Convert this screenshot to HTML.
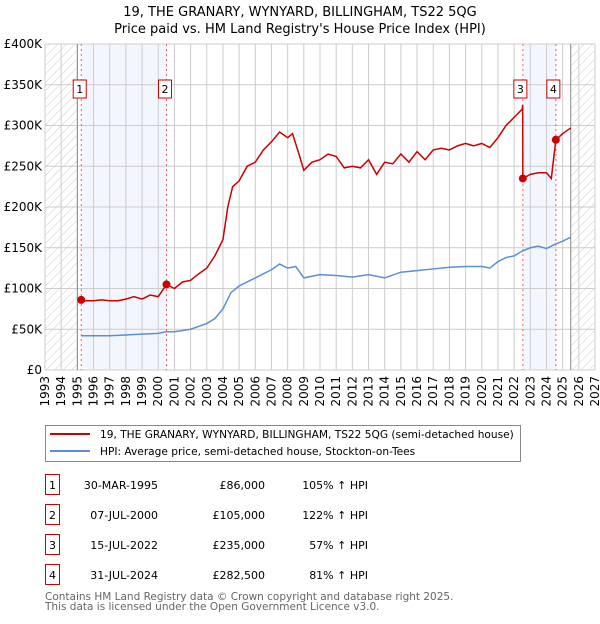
<!DOCTYPE html>
<html><head><meta charset="utf-8"><style>
body{margin:0;background:#fff;font-family:"DejaVu Sans","Liberation Sans",sans-serif;}
svg text{font-family:"DejaVu Sans","Liberation Sans",sans-serif;}
</style></head><body>
<svg id="c" width="600" height="620" xmlns="http://www.w3.org/2000/svg">
<defs><pattern id="hatch" width="6" height="6" patternUnits="userSpaceOnUse" patternTransform="rotate(45)"><line x1="0" y1="0" x2="0" y2="6" stroke="#ccc" stroke-width="1"/></pattern></defs>
<text x="300" y="16" text-anchor="middle" font-size="13">19, THE GRANARY, WYNYARD, BILLINGHAM, TS22 5QG</text>
<text x="300" y="33" text-anchor="middle" font-size="13">Price paid vs. HM Land Registry's House Price Index (HPI)</text>
<g id="plot"></g>
<g>
<rect x="45.5" y="425.5" width="475" height="36" fill="#fff" stroke="#888"/>
<line x1="50" y1="434" x2="90" y2="434" stroke="#cc0000" stroke-width="2"/>
<text x="100" y="438" font-size="10.6">19, THE GRANARY, WYNYARD, BILLINGHAM, TS22 5QG (semi-detached house)</text>
<line x1="50" y1="451" x2="90" y2="451" stroke="#5b8fd4" stroke-width="2"/>
<text x="100" y="455" font-size="10.6">HPI: Average price, semi-detached house, Stockton-on-Tees</text>
</g>
<g id="table" font-size="11"></g>
<text x="45" y="600" font-size="10.5" fill="#666">Contains HM Land Registry data © Crown copyright and database right 2025.</text>
<text x="45" y="610" font-size="10.5" fill="#666">This data is licensed under the Open Government Licence v3.0.</text>
</svg>
<script>
const years=[];for(let y=1993;y<=2027;y++)years.push(y);
const yTicks=[0,50000,100000,150000,200000,250000,300000,350000,400000];
const yTickLabels=["£0","£50K","£100K","£150K","£200K","£250K","£300K","£350K","£400K"];
const redT=[1995.24,1995.5,1996,1996.5,1997,1997.5,1998,1998.5,1999,1999.5,2000,2000.51,2001,2001.5,2002,2002.5,2003,2003.5,2004,2004.3,2004.6,2005,2005.5,2006,2006.5,2007,2007.5,2008,2008.3,2008.7,2009,2009.5,2010,2010.5,2011,2011.5,2012,2012.5,2013,2013.5,2014,2014.5,2015,2015.5,2016,2016.5,2017,2017.5,2018,2018.5,2019,2019.5,2020,2020.5,2021,2021.5,2022,2022.5,2022.53,2022.54,2023,2023.5,2024,2024.3,2024.58,2025,2025.5];
const redV=[86000,85000,85000,86000,85000,85000,87000,90000,87000,92000,90000,105000,100000,108000,110000,118000,125000,140000,160000,200000,225000,232000,250000,255000,270000,280000,292000,285000,290000,265000,245000,255000,258000,265000,262000,248000,250000,248000,258000,240000,255000,253000,265000,255000,268000,258000,270000,272000,270000,275000,278000,275000,278000,273000,285000,300000,310000,320000,325000,235000,240000,242000,242000,235000,282500,290000,297000];
const hpiT=[1995.24,1996,1997,1998,1999,2000,2000.5,2001,2002,2003,2003.5,2004,2004.5,2005,2005.5,2006,2006.5,2007,2007.5,2008,2008.5,2009,2009.5,2010,2011,2012,2013,2014,2015,2016,2017,2018,2019,2020,2020.5,2021,2021.5,2022,2022.5,2023,2023.5,2024,2024.5,2025,2025.5];
const hpiV=[42000,42000,42000,43000,44000,45000,47000,47000,50000,57000,63000,75000,95000,103000,108000,113000,118000,123000,130000,125000,127000,113000,115000,117000,116000,114000,117000,113000,120000,122000,124000,126000,127000,127000,125000,133000,138000,140000,146000,150000,152000,149000,154000,158000,163000];
const saleLabels=["1","2","3","4"];
const saleT=[1995.24,2000.51,2022.54,2024.58];
const saleV=[86000,105000,235000,282500];
const saleDates=["30-MAR-1995","07-JUL-2000","15-JUL-2022","31-JUL-2024"];
const salePrices=["£86,000","£105,000","£235,000","£282,500"];
const saleHpi=["105% ↑ HPI","122% ↑ HPI","57% ↑ HPI","81% ↑ HPI"];
const X0=45,X1=595,Y0=370,Y1=44;
const xs=t=>X0+(t-1993)/(2027-1993)*(X1-X0);
const ys=v=>Y0-v/400000*(Y0-Y1);
const NS="http://www.w3.org/2000/svg";
const g=document.getElementById('plot');
function mk(tag,attrs,parent){const e=document.createElementNS(NS,tag);for(const k in attrs)e.setAttribute(k,attrs[k]);(parent||g).appendChild(e);return e;}
let e;
e=mk('rect',{x:xs(saleT[0]),y:Y1,width:xs(saleT[1])-xs(saleT[0]),height:Y0-Y1,fill:'#eef3fc',opacity:0.7});


e=mk('rect',{x:xs(saleT[2]),y:Y1,width:xs(saleT[3])-xs(saleT[2]),height:Y0-Y1,fill:'#eef3fc',opacity:0.7});


e=mk('rect',{x:X0,y:Y1,width:xs(1995)-X0,height:Y0-Y1,fill:'url(#hatch)'});


e=mk('rect',{x:xs(2025.5),y:Y1,width:X1-xs(2025.5),height:Y0-Y1,fill:'url(#hatch)'});


years.forEach(y=>{
 e=mk('line',{x1:xs(y),x2:xs(y),y1:Y1,y2:Y0,stroke:'#ccc'});
 
 
 e=mk('text',{x:0,y:0,'font-size':12,'text-anchor':'end',transform:`translate(${xs(y)+4},${Y0+6}) rotate(-90)`});
 e.textContent=y;
 
 
});
yTicks.forEach((v,i)=>{
 e=mk('line',{x1:X0,x2:X1,y1:ys(v),y2:ys(v),stroke:'#ccc'});
 
 
 e=mk('text',{x:X0-3,y:ys(v)+4,'font-size':12,'text-anchor':'end'});
 e.textContent=yTickLabels[i];
 
 
});
e=mk('line',{x1:xs(1995),x2:xs(1995),y1:Y1,y2:Y0,stroke:'#888'});


e=mk('line',{x1:xs(2025.5),x2:xs(2025.5),y1:Y1,y2:Y0,stroke:'#888'});


saleT.forEach((t,i)=>{
 e=mk('line',{x1:xs(t),x2:xs(t),y1:Y1,y2:Y0,stroke:'#f06060','stroke-dasharray':'2,3'});
 
 
});
e=mk('polyline',{points:hpiT.map((t,i)=>xs(t)+','+ys(hpiV[i])).join(' '),fill:'none',stroke:'#5b8fd4','stroke-width':1.5});


e=mk('polyline',{points:redT.map((t,i)=>xs(t)+','+ys(redV[i])).join(' '),fill:'none',stroke:'#cc0000','stroke-width':1.5});


saleT.forEach((t,i)=>{
 e=mk('circle',{cx:xs(t),cy:ys(saleV[i]),r:4,fill:'#cc0000'});
 
 
 e=mk('rect',{x:xs(t)-7-(i<2?1:2),y:80,width:13,height:18,fill:'#fff',stroke:'#cc0000'});
 
 
 e=mk('text',{x:xs(t)-0.5-(i<2?1:2),y:93,'font-size':11,'text-anchor':'middle'});
 e.textContent=saleLabels[i];
 
 
});
const tb=document.getElementById('table');
saleLabels.forEach((l,i)=>{
 const y=487+i*30;
 e=mk('rect',{x:45.5,y:y-12.5,width:14,height:20,fill:'#fff',stroke:'#cc0000'},tb);
 
 
 e=mk('text',{x:52.5,y:y+2,'text-anchor':'middle'},tb);e.textContent=l;
 
 
 e=mk('text',{x:158,y:y+2,'text-anchor':'end'},tb);e.textContent=saleDates[i];
 
 
 e=mk('text',{x:265,y:y+2,'text-anchor':'end'},tb);e.textContent=salePrices[i];
 
 
 e=mk('text',{x:368,y:y+2,'text-anchor':'end'},tb);e.textContent=saleHpi[i];
 
 
});
</script>
</body></html>
